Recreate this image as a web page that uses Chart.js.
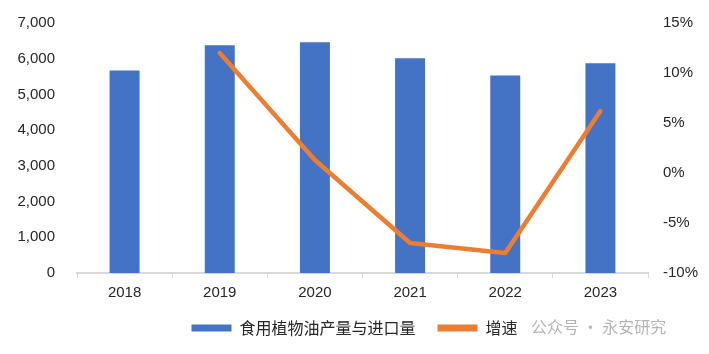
<!DOCTYPE html>
<html>
<head>
<meta charset="utf-8">
<script src="https://cdn.jsdelivr.net/npm/chart.js@4/dist/chart.umd.min.js"></script>
<style>
html,body{margin:0;padding:0;background:#fff;}
#wrap{width:709px;height:354px;position:relative;}
</style>
</head>
<body>
<div id="wrap"><canvas id="c" width="709" height="354"></canvas></div>
<script>
const categories = ["2018", "2019", "2020", "2021", "2022", "2023"];
const volumeValues = [5670, 6380, 6460, 6010, 5530, 5870];
const growthValues = [null, 12.0, 1.3, -7.0, -8.0, 6.2];
const volumeLabel = "食用植物油产量与进口量";
const growthLabel = "增速";
const watermarkText = "公众号 · 永安研究";

const tickFont = {family: "'Liberation Sans', Arial, sans-serif", size: 15};
const cjkFont = "'Noto Sans CJK SC', 'Noto Sans', sans-serif";
const textColor = "#262626";

const watermark = {
  id: "watermark",
  afterDraw(chart) {
    const ctx = chart.ctx;
    ctx.save();
    ctx.font = "16px " + cjkFont;
    ctx.fillStyle = "#b4b4b4";
    ctx.textBaseline = "middle";
    ctx.textAlign = "left";
    ctx.fillText(watermarkText, 531, 327);
    ctx.restore();
  }
};

new Chart(document.getElementById("c"), {
  data: {
    labels: categories,
    datasets: [
      {
        type: "line",
        label: growthLabel,
        data: growthValues,
        yAxisID: "y1",
        borderColor: "#ED7D31",
        backgroundColor: "#ED7D31",
        borderWidth: 4.5,
        pointRadius: 0,
        pointHoverRadius: 0,
        tension: 0,
        borderCapStyle: "round",
        borderJoinStyle: "round",
        order: 0
      },
      {
        type: "bar",
        label: volumeLabel,
        data: volumeValues,
        yAxisID: "y",
        backgroundColor: "#4472C4",
        borderWidth: 0,
        categoryPercentage: 1,
        barPercentage: 0.315,
        order: 1
      }
    ]
  },
  options: {
    responsive: false,
    animation: false,
    layout: {padding: {top: 23, left: 0, right: 0, bottom: 8}},
    plugins: {
      tooltip: {enabled: false},
      legend: {
        position: "bottom",
        labels: {
          font: {family: cjkFont, size: 16},
          color: textColor,
          boxWidth: 40,
          boxHeight: 7,
          padding: 22,
          generateLabels(chart) {
            const ds = chart.data.datasets;
            return [1, 0].map(i => ({
              text: ds[i].label,
              fillStyle: i === 1 ? "#4472C4" : "#ED7D31",
              strokeStyle: i === 1 ? "#4472C4" : "#ED7D31",
              lineWidth: 0,
              hidden: false,
              datasetIndex: i,
              fontColor: textColor
            }));
          }
        }
      }
    },
    scales: {
      x: {
        offset: true,
        grid: {
          offset: true,
          display: true,
          drawOnChartArea: false,
          drawTicks: true,
          tickLength: 5,
          color: "#d9d9d9",
          lineWidth: 1
        },
        border: {display: true, color: "#d9d9d9", width: 2},
        ticks: {font: tickFont, color: textColor, padding: 6},
        afterFit(scale) { scale.height = 25; }
      },
      y: {
        position: "left",
        min: 0,
        max: 7000,
        grid: {display: false, drawTicks: false},
        border: {display: false},
        ticks: {
          stepSize: 1000,
          font: tickFont,
          color: textColor,
          padding: 22,
          callback: v => v.toLocaleString("en-US")
        },
        afterFit(scale) { scale.width = 77; scale.paddingTop = 8; scale.paddingBottom = 8; }
      },
      y1: {
        position: "right",
        min: -10,
        max: 15,
        grid: {display: false, drawTicks: false},
        border: {display: false},
        ticks: {
          stepSize: 5,
          font: tickFont,
          color: textColor,
          padding: 15,
          callback: v => v + "%"
        },
        afterFit(scale) { scale.width = 61; scale.paddingTop = 8; scale.paddingBottom = 8; }
      }
    }
  },
  plugins: [watermark]
});
</script>
</body>
</html>
